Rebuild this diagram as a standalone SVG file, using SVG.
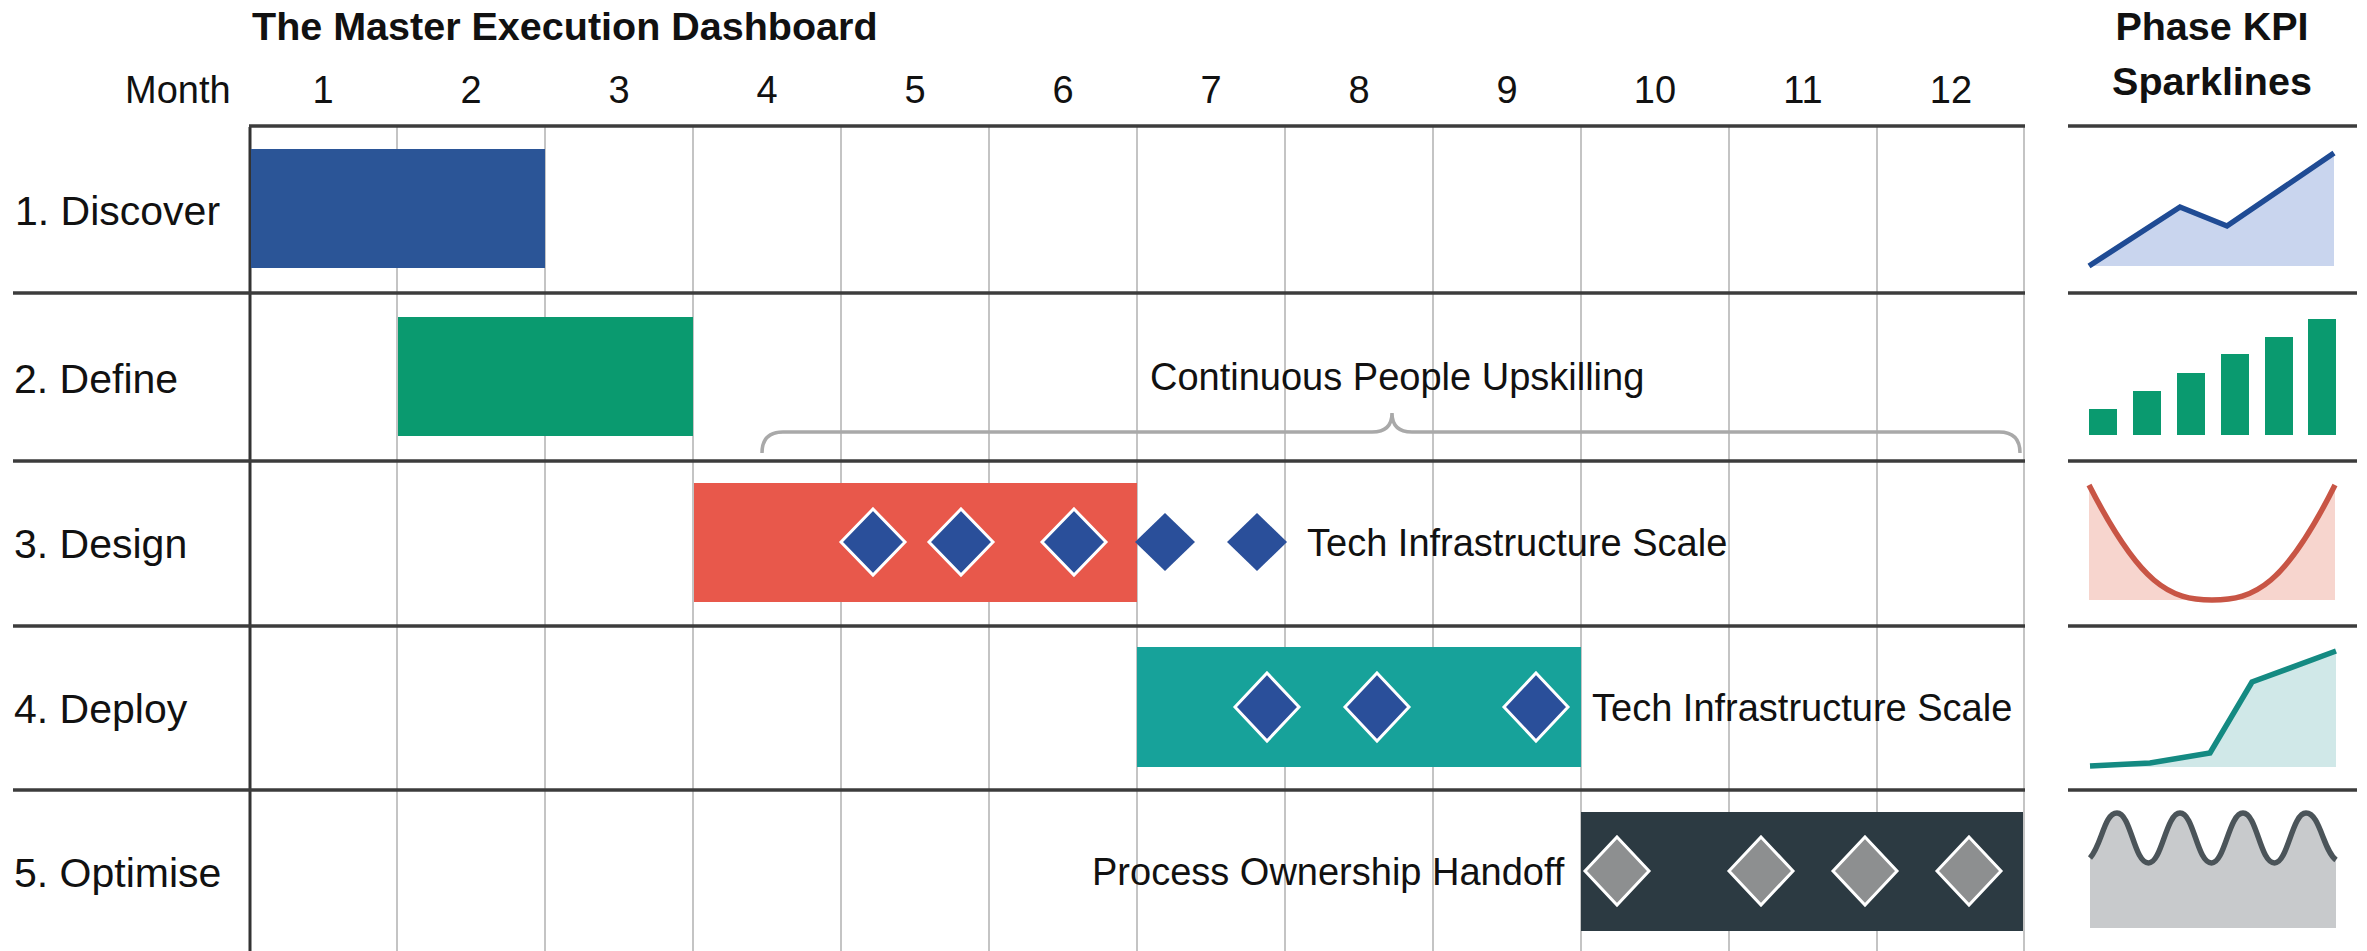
<svg xmlns="http://www.w3.org/2000/svg" width="2367" height="951" viewBox="0 0 2367 951">
<defs>
<style>
text{font-family:"Liberation Sans",Arial,sans-serif;fill:#111;}
.title{font-size:39.5px;font-weight:bold;}
.hdr{font-size:38px;}
.num{font-size:38px;text-anchor:middle;}
.row{font-size:41px;}
.lbl{font-size:38px;}
.vline{stroke:#c4c4c4;stroke-width:2;}
.hline{stroke:#3c3c3c;stroke-width:3.5;}
.dia{fill:#2a4f9a;stroke:#fff;stroke-width:3;}
.diaN{fill:#2a4f9a;}
.diaG{fill:#8d8f90;stroke:#fff;stroke-width:3;}
</style>
</defs>
<rect width="2367" height="951" fill="#fff"/>

<g id="header">
<text class="title" x="252" y="40">The Master Execution Dashboard</text>
<text class="hdr" x="125" y="103">Month</text>
<text class="num" x="323" y="103">1</text>
<text class="num" x="471" y="103">2</text>
<text class="num" x="619" y="103">3</text>
<text class="num" x="767" y="103">4</text>
<text class="num" x="915" y="103">5</text>
<text class="num" x="1063" y="103">6</text>
<text class="num" x="1211" y="103">7</text>
<text class="num" x="1359" y="103">8</text>
<text class="num" x="1507" y="103">9</text>
<text class="num" x="1655" y="103">10</text>
<text class="num" x="1803" y="103">11</text>
<text class="num" x="1951" y="103">12</text>
<text class="title" x="2212" y="40" text-anchor="middle">Phase KPI</text>
<text class="title" x="2212" y="95" text-anchor="middle">Sparklines</text>
</g>

<g id="grid">
<line class="vline" x1="397" y1="127" x2="397" y2="951"/>
<line class="vline" x1="545" y1="127" x2="545" y2="951"/>
<line class="vline" x1="693" y1="127" x2="693" y2="951"/>
<line class="vline" x1="841" y1="127" x2="841" y2="951"/>
<line class="vline" x1="989" y1="127" x2="989" y2="951"/>
<line class="vline" x1="1137" y1="127" x2="1137" y2="951"/>
<line class="vline" x1="1285" y1="127" x2="1285" y2="951"/>
<line class="vline" x1="1433" y1="127" x2="1433" y2="951"/>
<line class="vline" x1="1581" y1="127" x2="1581" y2="951"/>
<line class="vline" x1="1729" y1="127" x2="1729" y2="951"/>
<line class="vline" x1="1877" y1="127" x2="1877" y2="951"/>
<line class="vline" x1="2024" y1="127" x2="2024" y2="951"/>
<line x1="250" y1="127" x2="250" y2="951" stroke="#333" stroke-width="3"/>
<line class="hline" x1="249" y1="126" x2="2025" y2="126"/>
<line class="hline" x1="13" y1="293" x2="2025" y2="293"/>
<line class="hline" x1="13" y1="461" x2="2025" y2="461"/>
<line class="hline" x1="13" y1="626" x2="2025" y2="626"/>
<line class="hline" x1="13" y1="790" x2="2025" y2="790"/>
<line class="hline" x1="2068" y1="126" x2="2357" y2="126"/>
<line class="hline" x1="2068" y1="293" x2="2357" y2="293"/>
<line class="hline" x1="2068" y1="461" x2="2357" y2="461"/>
<line class="hline" x1="2068" y1="626" x2="2357" y2="626"/>
<line class="hline" x1="2068" y1="790" x2="2357" y2="790"/>
</g>

<g id="phase-discover">
<text class="row" x="15" y="225">1. Discover</text>
<rect x="251" y="149" width="294" height="119" fill="#2b5597"/>
</g>

<g id="phase-define">
<text class="row" x="14" y="393">2. Define</text>
<rect x="398" y="317" width="295" height="119" fill="#0a9a6f"/>
</g>

<g id="phase-design">
<text class="row" x="14" y="558">3. Design</text>
<rect x="694" y="483" width="443" height="119" fill="#e8584b"/>
<polygon class="dia" points="873,509 905,542 873,575 841,542"/>
<polygon class="dia" points="961,509 993,542 961,575 929,542"/>
<polygon class="dia" points="1074,509 1106,542 1074,575 1042,542"/>
<polygon class="diaN" points="1165,513 1195,542 1165,571 1135,542"/>
<polygon class="diaN" points="1257,513 1287,542 1257,571 1227,542"/>
<text class="lbl" x="1307" y="556">Tech Infrastructure Scale</text>
</g>

<g id="phase-deploy">
<text class="row" x="14" y="723">4. Deploy</text>
<rect x="1137" y="647" width="444" height="120" fill="#17a29a"/>
<polygon class="dia" points="1267,673 1299,707 1267,741 1235,707"/>
<polygon class="dia" points="1377,673 1409,707 1377,741 1345,707"/>
<polygon class="dia" points="1536,673 1568,707 1536,741 1504,707"/>
<text class="lbl" x="1592" y="721">Tech Infrastructure Scale</text>
</g>

<g id="phase-optimise">
<text class="row" x="14" y="887">5. Optimise</text>
<rect x="1581" y="812" width="442" height="119" fill="#2c3a42"/>
<polygon class="diaG" points="1617,837 1649,871 1617,905 1585,871"/>
<polygon class="diaG" points="1761,837 1793,871 1761,905 1729,871"/>
<polygon class="diaG" points="1865,837 1897,871 1865,905 1833,871"/>
<polygon class="diaG" points="1969,837 2001,871 1969,905 1937,871"/>
<text class="lbl" x="1092" y="885">Process Ownership Handoff</text>
</g>

<g id="upskilling">
<path d="M762,453 Q762,432 783,432 L1372,432 Q1392,432 1392,413 Q1392,432 1412,432 L1999,432 Q2020,432 2020,453" fill="none" stroke="#a9a9a9" stroke-width="3.5"/>
<text class="lbl" x="1150" y="390">Continuous People Upskilling</text>
</g>

<g id="spark-discover">
<polygon points="2089,266 2180,207 2227,226 2334,153 2334,266" fill="#c9d5ee"/>
<polyline points="2089,266 2180,207 2227,226 2334,153" fill="none" stroke="#1f4b94" stroke-width="5.5" stroke-linejoin="miter"/>
</g>

<g id="spark-define" fill="#0a9a6f">
<rect x="2089" y="409" width="28" height="26"/>
<rect x="2133" y="391" width="28" height="44"/>
<rect x="2177" y="373" width="28" height="62"/>
<rect x="2221" y="354" width="28" height="81"/>
<rect x="2265" y="337" width="28" height="98"/>
<rect x="2308" y="319" width="28" height="116"/>
</g>

<g id="spark-design">
<path d="M2089,485 C2140,585 2170,600 2212,600 C2255,600 2285,585 2335,485 L2335,600 L2089,600 Z" fill="#f7d5ce"/>
<path d="M2089,485 C2140,585 2170,600 2212,600 C2255,600 2285,585 2335,485" fill="none" stroke="#c85545" stroke-width="5.5"/>
</g>

<g id="spark-deploy">
<polygon points="2090,766 2150,763 2210,753 2252,682 2336,651 2336,767 2090,767" fill="#d0e8e8"/>
<polyline points="2090,766 2150,763 2210,753 2252,682 2336,651" fill="none" stroke="#148a82" stroke-width="5.5"/>
</g>

<g id="spark-optimise">
<path d="M2090,858 C2102,845 2104,813 2117,813 C2131,813 2134,863 2148.5,863 C2162,863 2166,813 2180,813 C2194,813 2197,863 2211.5,863 C2225,863 2229,813 2243,813 C2257,813 2260,863 2274.5,863 C2288,863 2292,813 2306,813 C2320,813 2323,850 2336,860 L2336,928 L2090,928 Z" fill="#c8cacc"/>
<path d="M2090,858 C2102,845 2104,813 2117,813 C2131,813 2134,863 2148.5,863 C2162,863 2166,813 2180,813 C2194,813 2197,863 2211.5,863 C2225,863 2229,813 2243,813 C2257,813 2260,863 2274.5,863 C2288,863 2292,813 2306,813 C2320,813 2323,850 2336,860" fill="none" stroke="#4b5459" stroke-width="5.5"/>
</g>
</svg>
